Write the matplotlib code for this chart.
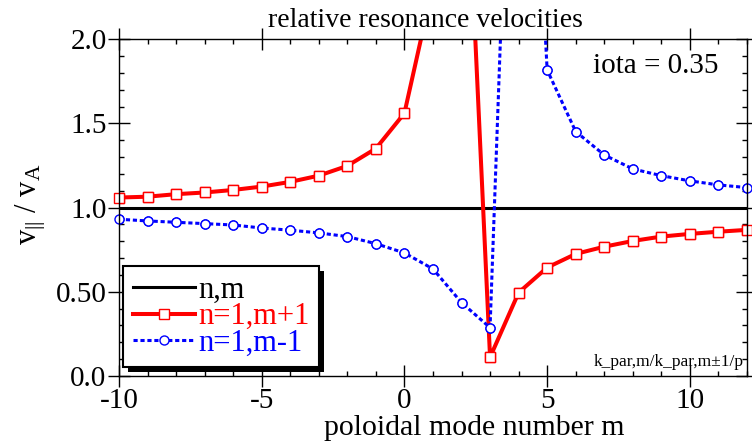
import numpy as np
import matplotlib
matplotlib.use('Agg')
import matplotlib.pyplot as plt
from matplotlib import patheffects
from matplotlib.ticker import MultipleLocator, FixedLocator, FixedFormatter

# poloidal mode number m
m = [-10, -9, -8, -7, -6, -5, -4, -3, -2, -1, 0, 1, 2, 3, 4, 5, 6, 7, 8, 9, 10, 11, 12]

# v_par / v_A for the reference mode and the two neighbours (n=1)
v_nm = [1.0, 1.0, 1.0, 1.0, 1.0, 1.0, 1.0, 1.0, 1.0, 1.0, 1.0, 1.0,
        1.0, 1.0, 1.0, 1.0, 1.0, 1.0, 1.0, 1.0, 1.0, 1.0, 1.0]
v_mp1 = [1.06, 1.065, 1.08, 1.09, 1.105, 1.125, 1.153, 1.19, 1.248, 1.351, 1.561, 2.32,
         3.77, 0.111, 0.495, 0.644, 0.725, 0.768, 0.802, 0.828, 0.844, 0.857, 0.868]
v_mm1 = [0.931, 0.921, 0.913, 0.905, 0.897, 0.879, 0.866, 0.85, 0.828, 0.786, 0.731, 0.636,
         0.436, 0.287, 5.0, 1.818, 1.452, 1.313, 1.23, 1.19, 1.159, 1.135, 1.119]

labels = ['n,m', 'n=1,m+1', 'n=1,m-1']
y_ticks = [0.0, 0.5, 1.0, 1.5, 2.0]
y_tick_labels = ['0.0', '0.50', '1.0', '1.5', '2.0']

plt.rcParams['font.family'] = ['Liberation Serif', 'DejaVu Serif']
plt.rcParams['mathtext.fontset'] = 'custom'
plt.rcParams['mathtext.rm'] = 'Liberation Serif'
plt.rcParams['mathtext.it'] = 'Liberation Serif:italic'
plt.rcParams['axes.unicode_minus'] = False
plt.rcParams['lines.scale_dashes'] = False

fig = plt.figure(figsize=(7.52, 4.44), dpi=100)
ax = fig.add_axes([0.1582, 0.1532, 0.8351, 0.7583])

ax.plot(m, v_nm, color='black', lw=2.2, label=labels[0])
ax.plot(m, v_mp1, color='red', lw=2.9, marker='s', ms=7.2,
        mfc='white', mec='red', mew=1.0, label=labels[1])
ax.plot(m, v_mm1, color='blue', lw=2.2, dashes=(3, 2), marker='o', ms=6.5,
        mfc='white', mec='blue', mew=1.0, label=labels[2])

# redraw visible markers unclipped so the ones on the frame stay whole
ax.plot(m, np.ma.masked_greater(v_mp1, 2.0), ls='none', marker='s', ms=7.2,
        mfc='white', mec='red', mew=1.0, clip_on=False)
ax.plot(m, np.ma.masked_greater(v_mm1, 2.0), ls='none', marker='o', ms=6.5,
        mfc='white', mec='blue', mew=1.0, clip_on=False)

ax.set_xlim(-10, 12)
ax.set_ylim(0, 2)

ax.xaxis.set_major_locator(MultipleLocator(5))
ax.xaxis.set_minor_locator(MultipleLocator(1))
ax.yaxis.set_major_locator(FixedLocator(y_ticks))
ax.yaxis.set_major_formatter(FixedFormatter(y_tick_labels))
ax.yaxis.set_minor_locator(MultipleLocator(0.1))
ax.tick_params(which='major', direction='inout', length=15.6, width=1.0, pad=1.1,
               labelsize=21, top=True, right=True)
ax.tick_params(which='minor', direction='in', length=3.6, width=1.0, top=True, right=True)
ax.tick_params(axis='x', which='major', pad=0.5)
for s in ax.spines.values():
    s.set_linewidth(1.0)

ax.set_xlabel('poloidal mode number m', fontsize=21.5, va='baseline')
ax.xaxis.set_label_coords(0.565, -0.175)
ax.set_ylabel(r'$\mathrm{v}_{||}$ / $\mathrm{v}_{\mathrm{A}}$', fontsize=22)
ax.yaxis.set_label_coords(-0.113, 0.509)

fig.text(0.5658, 0.94, 'relative resonance velocities', fontsize=20,
         ha='center', va='baseline')
ax.text(0.855, 0.901, 'iota = 0.35', fontsize=21, ha='center', va='baseline',
        transform=ax.transAxes)
fig.text(0.789, 0.1757, 'k_par,m/k_par,m±1/p', fontsize=12.5, va='baseline')

leg = ax.legend(loc='lower left', bbox_to_anchor=(0.0068, 0.0258), borderaxespad=0,
                fontsize=22, handlelength=2.03, handletextpad=0.11, borderpad=0.31,
                labelspacing=-0.08, numpoints=1, fancybox=False, framealpha=1,
                edgecolor='black', labelcolor='linecolor')
frame = leg.get_frame()
frame.set_linewidth(1.5)
frame.set_path_effects([patheffects.SimplePatchShadow(offset=(3.6, -3.6),
                                                      shadow_rgbFace='black', alpha=1.0),
                        patheffects.Normal()])

fig.savefig('out.png', dpi=100)
